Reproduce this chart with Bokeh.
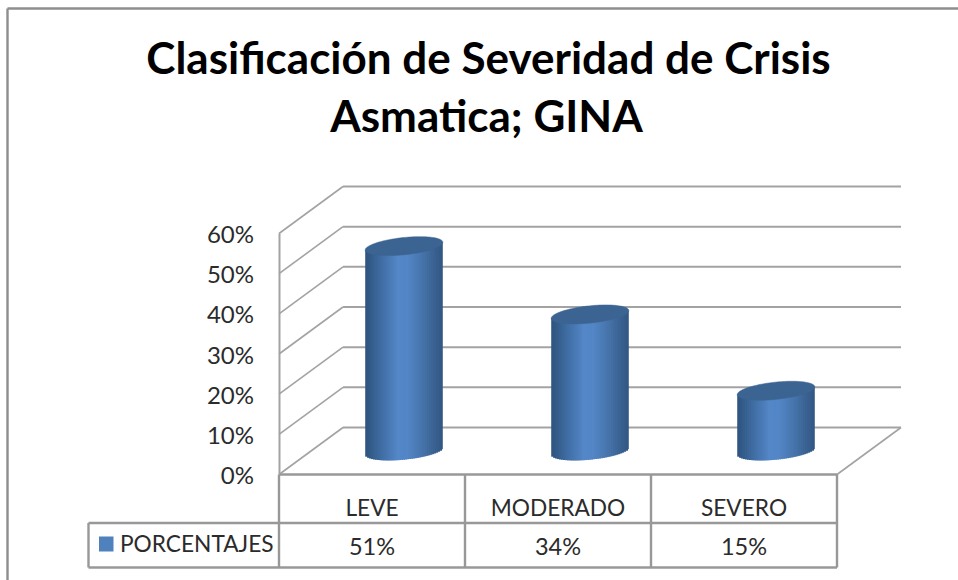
import numpy as np
from bokeh.plotting import figure
from bokeh.models import Range1d, FixedTicker, PrintfTickFormatter, Label
from bokeh.embed import file_html
from bokeh.resources import INLINE

categories = ["LEVE", "MODERADO", "SEVERO"]
values = [51, 34, 15]
value_labels = ["51%", "34%", "15%"]
y_ticks = [0, 10, 20, 30, 40, 50, 60]
series_name = "PORCENTAJES"
title_lines = ["Clasificación de Severidad de Crisis", "Asmatica; GINA"]

W, H = 958, 580
PX_X, PX_Y = 186.0, 241.0 / 60          # pixels per category, pixels per percent
ORG_X, ORG_Y = 278.5, 474               # where category 0 / 0% sit inside the figure
DEPTH_X, DEPTH_Y = 64 / PX_X, 47 / PX_Y
GRID = "#a3a3a3"
TABLE = "#989898"
TEXT = "#2b2b2b"
FONT = "Lato"


def cx(px):
    return (px - ORG_X) / PX_X


def cy(py):
    return (ORG_Y - py) / PX_Y


p = figure(width=W, height=H, output_backend="svg", toolbar_location=None, tools="",
           x_range=Range1d(-ORG_X / PX_X, (W - ORG_X) / PX_X),
           y_range=Range1d((ORG_Y - H) / PX_Y, ORG_Y / PX_Y),
           min_border=0, outline_line_color=None, background_fill_color="white",
           border_fill_color="white")
p.grid.visible = False

n = len(categories)
top = y_ticks[-1]

# back wall and side wall
p.segment(x0=[DEPTH_X] * len(y_ticks), y0=[v + DEPTH_Y for v in y_ticks],
          x1=[n + DEPTH_X] * len(y_ticks), y1=[v + DEPTH_Y for v in y_ticks],
          line_color=GRID, line_width=2)
p.segment(x0=[0] * len(y_ticks), y0=y_ticks, x1=[DEPTH_X] * len(y_ticks),
          y1=[v + DEPTH_Y for v in y_ticks], line_color=GRID, line_width=1.6)
p.segment(x0=[n], y0=[0], x1=[n + DEPTH_X], y1=[DEPTH_Y], line_color=GRID, line_width=1.6)

# cylinders
RX, RY, TILT = 39.0, 8.6, np.deg2rad(6.0)
phi = np.linspace(0, 2 * np.pi, 121)
ex = RX * np.cos(phi) * np.cos(TILT) - RY * np.sin(phi) * np.sin(TILT)
ey = RX * np.cos(phi) * np.sin(TILT) + RY * np.sin(phi) * np.cos(TILT)
stops_t = [0, .08, .22, .42, .55, .72, .9, 1]
stops_c = [(0x2f, 0x54, 0x7e), (0x35, 0x5d, 0x8b), (0x41, 0x6f, 0xa6), (0x55, 0x88, 0xc9),
           (0x53, 0x86, 0xc6), (0x48, 0x76, 0xae), (0x39, 0x61, 0x90), (0x32, 0x58, 0x84)]
STRIPS = 40
edges = np.linspace(ex.min(), ex.max(), STRIPS + 1)
mids = (edges[:-1] + edges[1:]) / 2
imax, imin = ex.argmax(), ex.argmin()


def boundary(xq):
    # lower and upper edge of the tilted ellipse at a horizontal offset
    ys_all = []
    for sign in (-1, 1):
        mask = np.sign(ey - np.interp(ex, [ex[imin], ex[imax]], [ey[imin], ey[imax]])) == sign
        o = np.argsort(ex[mask])
        ys_all.append(np.interp(xq, ex[mask][o], ey[mask][o]))
    return ys_all


low, upp = boundary(mids)
left, right, bottom, ttop, colors = [], [], [], [], []
cap_xs, cap_ys = [], []
for i, v in enumerate(values):
    center = i + 0.5 + DEPTH_X / 2
    y0 = DEPTH_Y / 2
    for j, m in enumerate(mids):
        t = (m - edges[0]) / (edges[-1] - edges[0])
        rgb = [int(np.interp(t, stops_t, [c[k] for c in stops_c])) for k in range(3)]
        colors.append("#%02x%02x%02x" % tuple(rgb))
        left.append(center + edges[j] / PX_X)
        right.append(center + (edges[j + 1] + (1.2 if j < STRIPS - 1 else 0)) / PX_X)
        bottom.append(y0 + low[j] / PX_Y)
        ttop.append(y0 + v + (low[j] + upp[j]) / 2 / PX_Y)
    cap_xs.append(list(center + ex / PX_X))
    cap_ys.append(list(y0 + v + ey / PX_Y))
p.quad(left=left, right=right, top=ttop, bottom=bottom, fill_color=colors, line_color=None)
p.patches(cap_xs, cap_ys, fill_color="#3c6492", line_color="#3c6492", line_width=0.5)

# data table
ROW1, ROW2 = cy(522.5), cy(567)
LEG = cx(88)
p.segment(x0=[LEG, LEG, 0], y0=[ROW1, ROW2, 0], x1=[n, n, n], y1=[ROW1, ROW2, 0],
          line_color=TABLE, line_width=2.4)
p.segment(x0=list(range(n + 1)) + [LEG], y0=[0] * (n + 1) + [ROW1],
          x1=list(range(n + 1)) + [LEG], y1=[ROW2] * (n + 2), line_color=TABLE, line_width=2.4)

p.text(x=[i + 0.5 for i in range(n)], y=[cy(545.5)] * n, text=value_labels,
       text_font={"value": FONT}, text_font_size="23.5px", text_color=TEXT,
       text_align="center", text_baseline="middle")
p.quad(left=[cx(98.5)], right=[cx(113)], top=[cy(536)], bottom=[cy(551)],
       fill_color="#4f81bd", line_color=None)
p.text(x=[cx(119.5)], y=[cy(543)], text=[series_name], text_font={"value": FONT},
       text_font_size="22.7px", text_color=TEXT, text_align="left", text_baseline="middle")

# axes
yax = p.yaxis[0]
yax.fixed_location = 0
yax.bounds = (0, top)
yax.ticker = FixedTicker(ticks=y_ticks, minor_ticks=[])
yax.formatter = PrintfTickFormatter(format="%d%%")
yax.major_tick_line_color = None
yax.minor_tick_line_color = None
yax.axis_line_color = GRID
yax.axis_line_width = 2
yax.major_label_standoff = 19
yax.major_label_text_font = FONT
yax.major_label_text_font_size = "24px"
yax.major_label_text_color = TEXT

xax = p.xaxis[0]
xax.fixed_location = 0
xax.ticker = FixedTicker(ticks=[i + 0.5 for i in range(n)], minor_ticks=[])
xax.major_label_overrides = {i + 0.5: c for i, c in enumerate(categories)}
xax.major_tick_line_color = None
xax.minor_tick_line_color = None
xax.axis_line_color = None
xax.major_label_standoff = 13
xax.major_label_text_font = FONT
xax.major_label_text_font_size = "22.7px"
xax.major_label_text_color = TEXT

# title
for line, base, mid in zip(title_lines, (56, 114), (488, 486)):
    p.add_layout(Label(x=cx(mid), y=cy(base), text=line, text_font=FONT, text_font_size="44px",
                       text_font_style="bold", text_color="#000000", text_align="center",
                       text_baseline="alphabetic"))

# chart frame
p.segment(x0=[cx(7), cx(7)], y0=[cy(8), cy(8)], x1=[cx(958), cx(7)], y1=[cy(8), cy(580)],
          line_color="#8e8e8e", line_width=2.4)

open("out.html", "w").write(file_html(p, INLINE))
